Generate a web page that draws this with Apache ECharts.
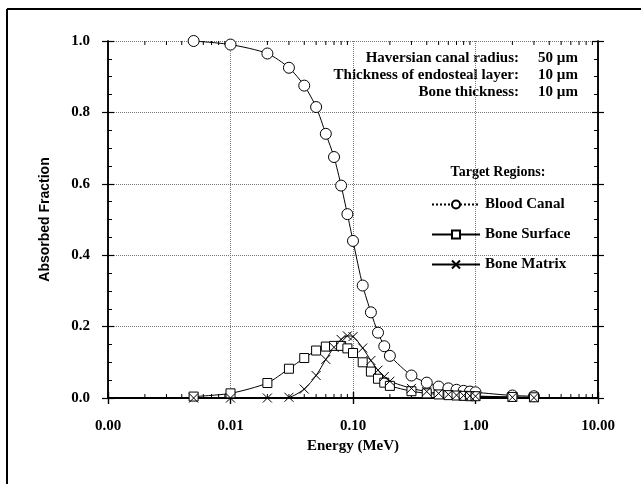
<!DOCTYPE html>
<html>
<head>
<meta charset="utf-8">
<script src="https://cdn.jsdelivr.net/npm/echarts@6/dist/echarts.min.js"></script>
<style>
html, body { margin: 0; padding: 0; background: #fff; }
#chart { width: 641px; height: 484px; }
</style>
</head>
<body>
<div id="chart"></div>
<script>
// 光子能量 (MeV)
const energy = [0.005, 0.01, 0.02, 0.03, 0.04, 0.05, 0.06, 0.07, 0.08, 0.09, 0.1,
    0.12, 0.14, 0.16, 0.18, 0.2, 0.3, 0.4, 0.5, 0.6, 0.7, 0.8, 0.9, 1.0, 2.0, 3.0];

// 三个靶区的吸收份额
const bloodCanal = [1.0, 0.99, 0.965, 0.925, 0.875, 0.815, 0.74, 0.675, 0.595, 0.515, 0.44,
    0.315, 0.24, 0.183, 0.145, 0.118, 0.063, 0.043, 0.032, 0.027, 0.023, 0.02, 0.018, 0.016, 0.007, 0.005];
const boneSurface = [0.004, 0.013, 0.042, 0.082, 0.112, 0.133, 0.144, 0.146, 0.146, 0.139, 0.126,
    0.1, 0.074, 0.054, 0.043, 0.034, 0.019, 0.013, 0.01, 0.008, 0.007, 0.006, 0.005, 0.005, 0.003, 0.002];
const boneMatrix = [0.0, 0.0, 0.0, 0.002, 0.025, 0.063, 0.108, 0.142, 0.164, 0.174, 0.172,
    0.14, 0.105, 0.078, 0.06, 0.047, 0.027, 0.018, 0.013, 0.01, 0.008, 0.007, 0.006, 0.005, 0.002, 0.001];

const seriesNames = ['Blood Canal', 'Bone Surface', 'Bone Matrix'];

// 右上角参数说明
const paramLabels = ['Haversian canal radius:', 'Thickness of endosteal layer:', 'Bone thickness:'];
const paramValues = ['50 \u00b5m', '10 \u00b5m', '10 \u00b5m'];

// 对数轴的次刻度 (每个十进位的 2..9)
const decades = [0.001, 0.01, 0.1, 1];
const xMinorTicks = decades.flatMap(d => [2, 3, 4, 5, 6, 7, 8, 9].map(k => k * d));

const serif = 'Liberation Serif';
const black = '#000';

const xBase = {
    type: 'log', logBase: 10, min: 0.001, max: 10,
    axisLine: { show: true, lineStyle: { color: black, width: 1.5 } },
    axisTick: { show: true, length: 6, lineStyle: { color: black, width: 1.2 } },
    axisLabel: { show: false },
    splitLine: { show: false }
};
const yBase = {
    type: 'value', min: 0, max: 1, interval: 0.2,
    axisLine: { show: true, lineStyle: { color: black, width: 1.5 } },
    axisTick: { show: true, length: 6, lineStyle: { color: black, width: 1.2 } },
    axisLabel: { show: false },
    splitLine: { show: false }
};

const lineSeries = (name, values, symbol, size) => ({
    name,
    type: 'line',
    data: energy.map((e, i) => [e, values[i]]),
    smooth: 0.25,
    symbol,
    symbolSize: size,
    lineStyle: { color: black, width: 1 },
    itemStyle: { color: '#fff', borderColor: black, borderWidth: 1 },
    emphasis: { disabled: true }
});

const option = {
    animation: false,
    backgroundColor: '#fff',
    grid: { left: 108, right: 43, top: 41, bottom: 86 },
    legend: {
        orient: 'vertical',
        left: 426, top: 192,
        itemWidth: 48, itemHeight: 10, itemGap: 15,
        data: [
            { name: seriesNames[0], lineStyle: { type: 'dotted' } },
            { name: seriesNames[1] },
            { name: seriesNames[2] }
        ],
        textStyle: { fontFamily: serif, fontSize: 15, lineHeight: 15, fontWeight: 'bold', color: black }
    },
    xAxis: [
        {
            ...xBase, position: 'bottom',
            axisLabel: {
                show: true, margin: 21, color: black,
                fontFamily: serif, fontSize: 15, fontWeight: 'bold',
                formatter: v => v.toFixed(2)
            },
            splitLine: { show: true, lineStyle: { type: 'dotted', color: '#777', width: 1 } },
            name: 'Energy (MeV)', nameLocation: 'middle', nameGap: 39,
            nameTextStyle: { fontFamily: serif, fontSize: 15, fontWeight: 'bold', color: black }
        },
        { ...xBase, position: 'bottom', axisTick: { ...xBase.axisTick, inside: true } },
        { ...xBase, position: 'top' },
        { ...xBase, position: 'top', axisTick: { ...xBase.axisTick, inside: true } }
    ],
    yAxis: [
        {
            ...yBase, position: 'left',
            axisLabel: {
                show: true, margin: 18, color: black,
                fontFamily: serif, fontSize: 15, fontWeight: 'bold',
                formatter: v => v.toFixed(1)
            },
            splitLine: { show: true, lineStyle: { type: 'dotted', color: '#777', width: 1 } },
            name: 'Absorbed Fraction', nameLocation: 'middle', nameGap: 56,
            nameTextStyle: { fontFamily: 'Liberation Sans', fontSize: 14, fontWeight: 'bold', color: black }
        },
        {
            ...yBase, position: 'left',
            axisTick: { ...yBase.axisTick, inside: true },
            minorTick: { show: true, splitNumber: 4, length: 4, lineStyle: { color: black, width: 1 } }
        },
        { ...yBase, position: 'right' },
        {
            ...yBase, position: 'right',
            axisTick: { ...yBase.axisTick, inside: true },
            minorTick: { show: true, splitNumber: 4, length: 4, lineStyle: { color: black, width: 1 } }
        }
    ],
    graphic: [
        // 外框
        { type: 'line', shape: { x1: 7, y1: 9, x2: 641, y2: 9 }, style: { stroke: black, lineWidth: 2 } },
        { type: 'line', shape: { x1: 7, y1: 9, x2: 7, y2: 484 }, style: { stroke: black, lineWidth: 2 } },
        ...paramLabels.map((t, i) => ({
            type: 'text', x: 519, y: 58 + i * 17,
            style: { text: t, fill: black, font: `bold 15px "${serif}"`, textAlign: 'right', textVerticalAlign: 'middle' }
        })),
        ...paramValues.map((t, i) => ({
            type: 'text', x: 538, y: 58 + i * 17,
            style: { text: t, fill: black, font: `bold 15px "${serif}"`, textAlign: 'left', textVerticalAlign: 'middle' }
        })),
        {
            type: 'text', x: 498, y: 172,
            style: { text: 'Target Regions:', fill: black, font: `bold 14px "${serif}"`, textAlign: 'center', textVerticalAlign: 'middle' }
        }
    ],
    series: [
        lineSeries(seriesNames[0], bloodCanal, 'circle', 11),
        lineSeries(seriesNames[1], boneSurface, 'rect', 9),
        lineSeries(seriesNames[2], boneMatrix, 'path://M0,0L10,10M10,0L0,10', 9),
        {
            // 对数轴次刻度 (上下两边, 向内)
            type: 'custom',
            silent: true,
            data: xMinorTicks.map(v => [v, 0]),
            renderItem: (params, api) => {
                const bottom = api.coord([api.value(0), 0]);
                const top = api.coord([api.value(0), 1]);
                const st = { stroke: black, lineWidth: 1 };
                return {
                    type: 'group',
                    children: [
                        { type: 'line', shape: { x1: bottom[0], y1: bottom[1], x2: bottom[0], y2: bottom[1] - 4 }, style: st },
                        { type: 'line', shape: { x1: top[0], y1: top[1], x2: top[0], y2: top[1] + 4 }, style: st }
                    ]
                };
            }
        }
    ]
};

const myChart = echarts.init(document.getElementById('chart'));
myChart.setOption(option);
</script>
</body>
</html>
